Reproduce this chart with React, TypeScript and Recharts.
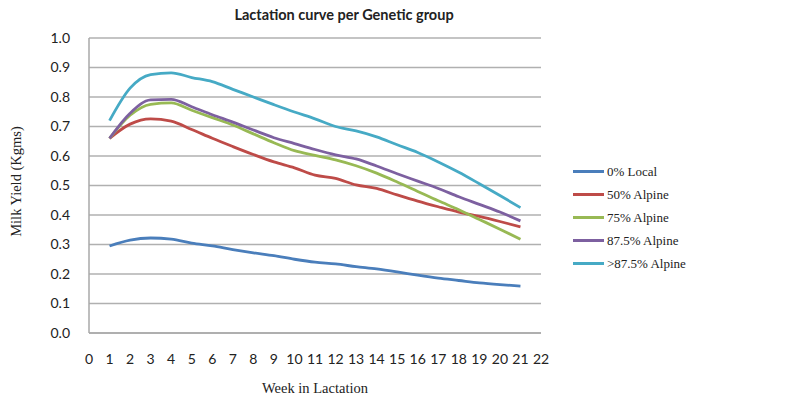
import { LineChart, Line, XAxis, YAxis, CartesianGrid } from 'recharts';

const weeks = [1, 2, 3, 4, 5, 6, 7, 8, 9, 10, 11, 12, 13, 14, 15, 16, 17, 18, 19, 20, 21];

const local0 = [0.295, 0.315, 0.322, 0.318, 0.305, 0.295, 0.283, 0.272, 0.262, 0.25, 0.24, 0.234, 0.225, 0.217, 0.207, 0.196, 0.186, 0.178, 0.17, 0.164, 0.159];
const alpine50 = [0.66, 0.708, 0.726, 0.718, 0.69, 0.66, 0.632, 0.605, 0.58, 0.56, 0.535, 0.524, 0.502, 0.49, 0.468, 0.447, 0.428, 0.41, 0.395, 0.378, 0.36];
const alpine75 = [0.66, 0.738, 0.775, 0.78, 0.755, 0.73, 0.705, 0.675, 0.645, 0.618, 0.602, 0.587, 0.567, 0.542, 0.512, 0.48, 0.448, 0.418, 0.385, 0.352, 0.318];
const alpine875 = [0.66, 0.745, 0.79, 0.792, 0.767, 0.74, 0.715, 0.688, 0.662, 0.642, 0.622, 0.604, 0.59, 0.566, 0.54, 0.515, 0.49, 0.462, 0.436, 0.41, 0.38];
const alpineOver = [0.72, 0.83, 0.876, 0.882, 0.866, 0.852, 0.826, 0.8, 0.774, 0.749, 0.726, 0.7, 0.685, 0.665, 0.638, 0.612, 0.58, 0.545, 0.506, 0.466, 0.425];

const xTicks = [0, 1, 2, 3, 4, 5, 6, 7, 8, 9, 10, 11, 12, 13, 14, 15, 16, 17, 18, 19, 20, 21, 22];
const yTicks = [0, 0.1, 0.2, 0.3, 0.4, 0.5, 0.6, 0.7, 0.8, 0.9, 1.0];

const series = [
  { key: 'local0', name: '0% Local', color: '#4a7ebb' },
  { key: 'alpine50', name: '50% Alpine', color: '#be4b48' },
  { key: 'alpine75', name: '75% Alpine', color: '#98b954' },
  { key: 'alpine875', name: '87.5% Alpine', color: '#7d60a0' },
  { key: 'alpineOver', name: '>87.5% Alpine', color: '#46aac5' },
];

const data = weeks.map((w, i) => ({
  week: w,
  local0: local0[i],
  alpine50: alpine50[i],
  alpine75: alpine75[i],
  alpine875: alpine875[i],
  alpineOver: alpineOver[i],
}));

const tickFont = 'Lato, "Open Sans", sans-serif';
const serif = '"Liberation Serif", "DejaVu Serif", serif';

function LegendBox() {
  return (
    <div style={{ position: 'absolute', left: 573, top: 160, fontFamily: serif, fontSize: 13, color: '#222' }}>
      {series.map((s) => (
        <div key={s.key} style={{ display: 'flex', alignItems: 'center', height: 23 }}>
          <div style={{ width: 31, height: 3, background: s.color, marginRight: 3 }} />
          <span>{s.name}</span>
        </div>
      ))}
    </div>
  );
}

export default function App() {
  return (
    <div style={{ position: 'fixed', left: 0, top: 0, width: 800, height: 396, background: '#fff' }}>
      <div
        style={{
          position: 'absolute',
          left: 0,
          top: 6,
          width: 688,
          textAlign: 'center',
          fontFamily: tickFont,
          fontWeight: 700,
          fontSize: 14.5,
          color: '#222',
        }}
      >
        Lactation curve per Genetic group
      </div>
      <LineChart width={800} height={396} data={data} margin={{ top: 38, right: 259, left: 0, bottom: 0 }}>
        <CartesianGrid vertical={false} stroke="#b0b0b0" strokeWidth={1.5} />
        <XAxis
          dataKey="week"
          type="number"
          domain={[0, 22]}
          ticks={xTicks}
          interval={0}
          height={63}
          tickLine={false}
          axisLine={{ stroke: '#a8a8a8', strokeWidth: 1.5 }}
          tick={{ fontSize: 14, fill: '#222', fontFamily: tickFont }}
          tickMargin={15}
          label={{
            value: 'Week in Lactation',
            position: 'insideBottom',
            offset: 3,
            style: { fontFamily: serif, fontSize: 14.5, fill: '#222' },
          }}
        />
        <YAxis
          type="number"
          domain={[0, 1]}
          ticks={yTicks}
          interval={0}
          width={89}
          tickLine={false}
          axisLine={{ stroke: '#a8a8a8', strokeWidth: 1.5 }}
          tickFormatter={(v: number) => v.toFixed(1)}
          tick={{ fontSize: 14, fill: '#222', fontFamily: tickFont }}
          tickMargin={13}
          label={{
            content: (props: any) => {
              const vb = props.viewBox;
              const cx = vb.x + 16;
              const cy = vb.y + vb.height / 2 - 4;
              return (
                <text
                  x={cx}
                  y={cy}
                  transform={`rotate(-90 ${cx} ${cy})`}
                  textAnchor="middle"
                  dominantBaseline="central"
                  style={{ fontFamily: serif, fontSize: 14.5, fill: '#222' }}
                >
                  Milk Yield (Kgms)
                </text>
              );
            },
          }}
        />
        {series.map((s) => (
          <Line
            key={s.key}
            type="monotone"
            dataKey={s.key}
            name={s.name}
            stroke={s.color}
            strokeWidth={2.8}
            dot={false}
            activeDot={false}
            isAnimationActive={false}
          />
        ))}
      </LineChart>
      <LegendBox />
    </div>
  );
}
